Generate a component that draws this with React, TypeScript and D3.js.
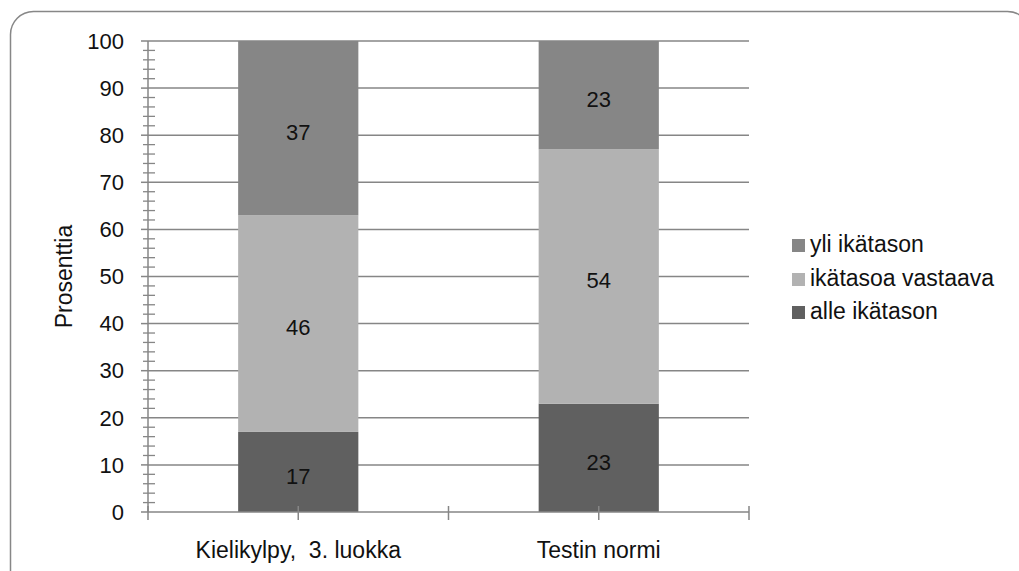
import React, { useEffect, useRef } from "react";
import * as d3 from "d3";

const categories = ["Kielikylpy,  3. luokka", "Testin normi"];
const seriesNames = ["alle ikätason", "ikätasoa vastaava", "yli ikätason"];
const alle = [17, 23];
const vastaava = [46, 54];
const yli = [37, 23];
const seriesColors = ["#606060", "#b2b2b2", "#868686"];
const yTicks = [0, 10, 20, 30, 40, 50, 60, 70, 80, 90, 100];

export default function App() {
  const ref = useRef<SVGSVGElement | null>(null);

  useEffect(() => {
    const svg = d3.select(ref.current);
    svg.selectAll("*").remove();
    const font = "'Liberation Sans', Arial, sans-serif";
    const numSize = 22;
    const txtSize = 23;

    // outer frame
    svg
      .append("rect")
      .attr("x", 10.5)
      .attr("y", 11.5)
      .attr("width", 1020)
      .attr("height", 600)
      .attr("rx", 23)
      .attr("fill", "white")
      .attr("stroke", "#878787")
      .attr("stroke-width", 1.5);

    const left = 148;
    const right = 749;
    const top = 41;
    const bottom = 512;

    const x = d3.scaleBand().domain(categories).range([left, right]).paddingInner(0.6).paddingOuter(0.3);
    const xOuter = d3.scaleBand().domain(categories).range([left, right]);
    const y = d3.scaleLinear().domain([0, 100]).range([bottom, top]);

    const g = svg.append("g");

    // grid lines
    g.selectAll("line.grid")
      .data(yTicks.filter((t) => t > 0))
      .join("line")
      .attr("x1", left)
      .attr("x2", right)
      .attr("y1", (d) => y(d))
      .attr("y2", (d) => y(d))
      .attr("stroke", "#868686")
      .attr("stroke-width", 1.5);

    // stacked data
    const rows = categories.map((c, i) => ({
      cat: c,
      [seriesNames[0]]: alle[i],
      [seriesNames[1]]: vastaava[i],
      [seriesNames[2]]: yli[i],
    }));
    const stack = d3.stack<any>().keys(seriesNames)(rows);

    stack.forEach((layer, li) => {
      layer.forEach((seg) => {
        const cat = seg.data.cat as string;
        const x0 = x(cat)!;
        g.append("rect")
          .attr("x", x0)
          .attr("y", y(seg[1]))
          .attr("width", x.bandwidth())
          .attr("height", y(seg[0]) - y(seg[1]))
          .attr("fill", seriesColors[li]);
        g.append("text")
          .attr("x", x0 + x.bandwidth() / 2)
          .attr("y", (y(seg[0]) + y(seg[1])) / 2 + 4)
          .attr("dy", "0.35em")
          .attr("text-anchor", "middle")
          .attr("font-family", font)
          .attr("font-size", numSize)
          .attr("fill", "#111")
          .text(seg[1] - seg[0]);
      });
    });

    // y axis line
    g.append("line")
      .attr("x1", left)
      .attr("x2", left)
      .attr("y1", top)
      .attr("y2", bottom)
      .attr("stroke", "#868686")
      .attr("stroke-width", 1.5);

    // minor ticks
    const minor = d3.range(0, 101, 2).filter((v) => v % 10 !== 0);
    g.selectAll("line.minor")
      .data(minor)
      .join("line")
      .attr("x1", left - 5)
      .attr("x2", left + 7)
      .attr("y1", (d) => y(d))
      .attr("y2", (d) => y(d))
      .attr("stroke", "#868686")
      .attr("stroke-width", 1.3);

    // major ticks
    g.selectAll("line.major")
      .data(yTicks)
      .join("line")
      .attr("x1", left - 7)
      .attr("x2", left)
      .attr("y1", (d) => y(d))
      .attr("y2", (d) => y(d))
      .attr("stroke", "#868686")
      .attr("stroke-width", 1.5);

    g.selectAll("text.ytick")
      .data(yTicks)
      .join("text")
      .attr("x", left - 24)
      .attr("y", (d) => y(d))
      .attr("dy", "0.35em")
      .attr("text-anchor", "end")
      .attr("font-family", font)
      .attr("font-size", numSize)
      .attr("fill", "#111")
      .text((d) => d);

    // x axis line
    g.append("line")
      .attr("x1", left)
      .attr("x2", right)
      .attr("y1", bottom)
      .attr("y2", bottom)
      .attr("stroke", "#868686")
      .attr("stroke-width", 1.5);

    const xTickPos = [
      left,
      ...categories.map((c) => xOuter(c)! + xOuter.bandwidth() / 2),
      ...categories.map((c) => xOuter(c)! + xOuter.bandwidth()),
    ];
    g.selectAll("line.xtick")
      .data(xTickPos)
      .join("line")
      .attr("x1", (d) => d)
      .attr("x2", (d) => d)
      .attr("y1", bottom - 6)
      .attr("y2", bottom + 8)
      .attr("stroke", "#868686")
      .attr("stroke-width", 1.5);

    g.selectAll("text.xlabel")
      .data(categories)
      .join("text")
      .attr("x", (d) => x(d)! + x.bandwidth() / 2)
      .attr("y", 550)
      .attr("dy", "0.35em")
      .attr("text-anchor", "middle")
      .attr("font-family", font)
      .attr("font-size", txtSize)
      .attr("fill", "#111")
      .attr("xml:space", "preserve")
      .style("white-space", "pre")
      .text((d) => d);

    // y axis title
    g.append("text")
      .attr("transform", `translate(64,${(top + bottom) / 2}) rotate(-90)`)
      .attr("text-anchor", "middle")
      .attr("dy", "0.35em")
      .attr("font-family", font)
      .attr("font-size", txtSize)
      .attr("fill", "#111")
      .text("Prosenttia");

    // legend (top to bottom: yli, vastaava, alle)
    const legendOrder = [2, 1, 0];
    const legY = [244, 278, 311];
    legendOrder.forEach((si, i) => {
      g.append("rect")
        .attr("x", 792)
        .attr("y", legY[i] - 5)
        .attr("width", 13)
        .attr("height", 13)
        .attr("fill", seriesColors[si]);
      g.append("text")
        .attr("x", 810)
        .attr("y", legY[i])
        .attr("dy", "0.35em")
        .attr("font-family", font)
        .attr("font-size", txtSize)
        .attr("fill", "#111")
        .text(seriesNames[si]);
    });
  }, []);

  return (
    <svg
      ref={ref}
      width={1019}
      height={571}
      style={{ position: "absolute", left: 0, top: 0, background: "white" }}
    />
  );
}
